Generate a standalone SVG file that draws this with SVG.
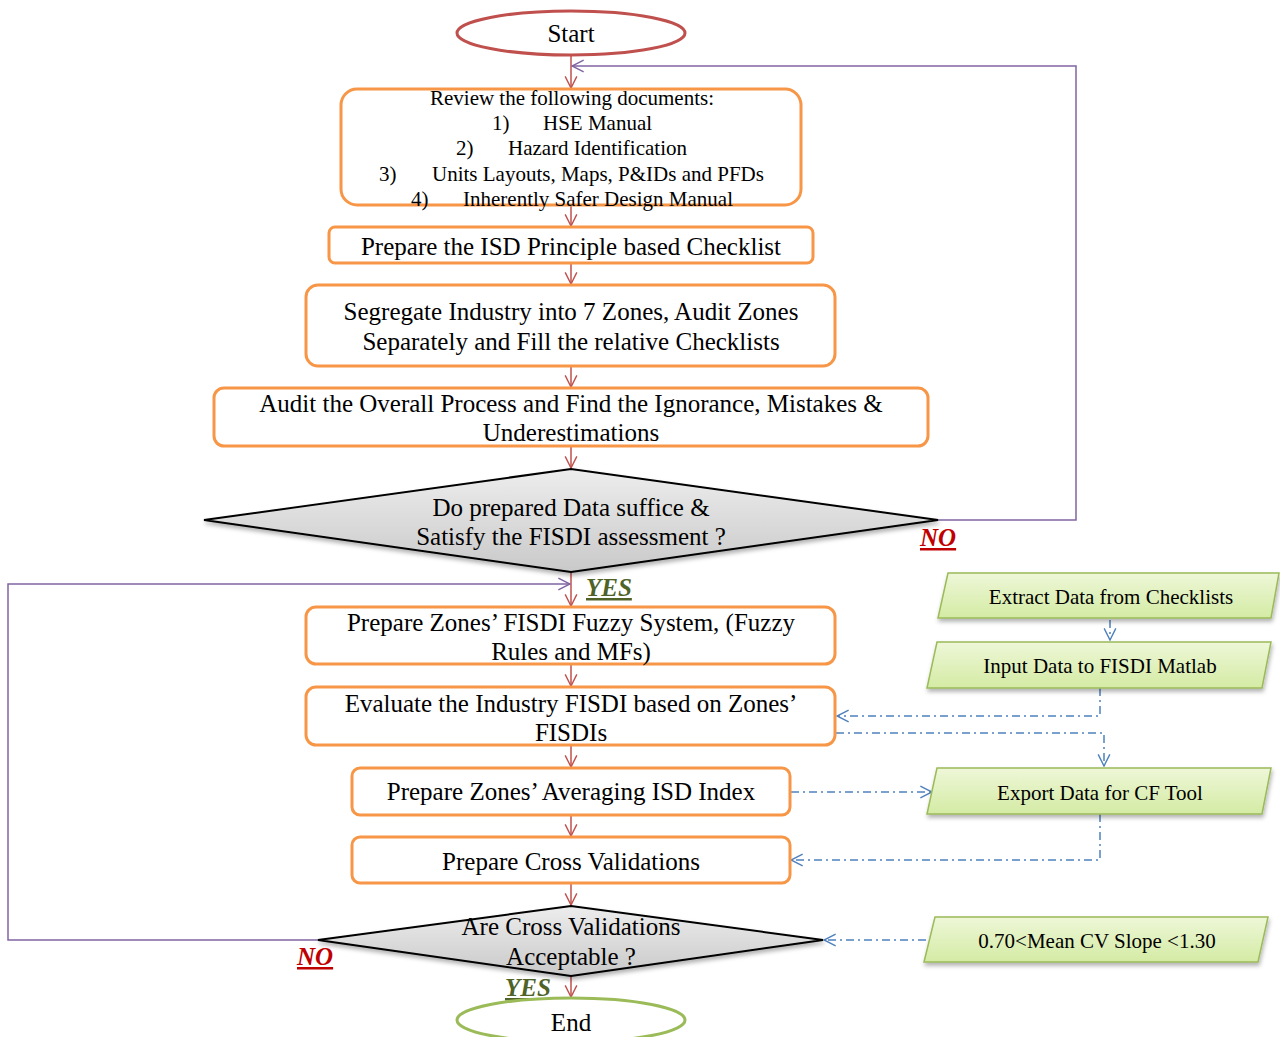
<svg xmlns="http://www.w3.org/2000/svg" width="1280" height="1037" viewBox="0 0 1280 1037">
<style>
text{font-family:"Liberation Serif","Times New Roman",serif;fill:#000}
.box{fill:#fff;stroke:#F79646;stroke-width:3}
.t22{font-size:25px;text-anchor:middle}
.t20{font-size:21px}
.g{font-size:21px;text-anchor:middle}
.red{fill:none;stroke:#C0504D;stroke-width:1.5;marker-end:url(#ar)}
.pur{fill:none;stroke:#8064A2;stroke-width:1.5}
.blu{fill:none;stroke:#4F81BD;stroke-width:1.5;stroke-dasharray:8 4 2 4}
.para{fill:url(#gg);stroke:#9BBB59;stroke-width:1.5;filter:url(#sh)}
.dia{fill:url(#dg);stroke:#000;stroke-width:2;filter:url(#sh)}
.no{font-size:25px;font-weight:bold;font-style:italic;fill:#C00000;text-decoration:underline}
.yes{font-size:25px;font-weight:bold;font-style:italic;fill:#4F6228;text-decoration:underline}
</style>
<defs>
<marker id="ar" viewBox="0 0 12 12" refX="11" refY="6" markerWidth="14" markerHeight="16" markerUnits="userSpaceOnUse" orient="auto"><path d="M1,1 L11,6 L1,11" fill="none" stroke="#C0504D" stroke-width="1.2"/></marker>
<marker id="ap" viewBox="0 0 12 12" refX="11" refY="6" markerWidth="14" markerHeight="14" markerUnits="userSpaceOnUse" orient="auto"><path d="M1,1 L11,6 L1,11" fill="none" stroke="#8064A2" stroke-width="1.2"/></marker>
<marker id="ab" viewBox="0 0 12 12" refX="11" refY="6" markerWidth="14" markerHeight="14" markerUnits="userSpaceOnUse" orient="auto"><path d="M1,1 L11,6 L1,11" fill="none" stroke="#4F81BD" stroke-width="1.2"/></marker>
<linearGradient id="gg" x1="0" y1="0" x2="0" y2="1"><stop offset="0" stop-color="#EEF7D8"/><stop offset="1" stop-color="#D4EBA4"/></linearGradient>
<linearGradient id="dg" x1="0" y1="0" x2="0" y2="1"><stop offset="0" stop-color="#EDEDED"/><stop offset="1" stop-color="#C9C9C9"/></linearGradient>
<filter id="sh" x="-5%" y="-20%" width="110%" height="150%"><feDropShadow dx="1" dy="3" stdDeviation="2" flood-color="#000" flood-opacity="0.3"/></filter>
</defs>

<g id="connectors">
<path class="red" d="M571,55 V88"/>
<path class="red" d="M571,205 V226"/>
<path class="red" d="M571,263 V284"/>
<path class="red" d="M571,366 V387"/>
<path class="red" d="M571,446 V468"/>
<path class="red" d="M571,572 V606"/>
<path class="red" d="M571,664 V686"/>
<path class="red" d="M571,745 V767"/>
<path class="red" d="M571,815 V836"/>
<path class="red" d="M571,883 V905"/>
<path class="red" d="M571,976 V997"/>
<path class="pur" marker-end="url(#ap)" d="M938,520 H1076 V66 H572"/>
<path class="pur" marker-end="url(#ap)" d="M320,940 H8 V584 H570"/>
<path class="blu" marker-end="url(#ab)" d="M1110,620 V640"/>
<path class="blu" marker-end="url(#ab)" d="M1100,688 V716 H837"/>
<path class="blu" marker-end="url(#ab)" d="M836,733 H1104 V766"/>
<path class="blu" marker-end="url(#ab)" d="M791,792 H932"/>
<path class="blu" marker-end="url(#ab)" d="M1100,814 V860 H791"/>
<path class="blu" marker-end="url(#ab)" d="M926,940 H824"/>
</g>

<g id="start">
<ellipse cx="571" cy="33" rx="114" ry="22" fill="#fff" stroke="#C0504D" stroke-width="3"/>
<text class="t22" x="571" y="42">Start</text>
</g>

<g id="review">
<rect class="box" x="341" y="89" width="460" height="116" rx="16"/>
<text class="t20" x="572" y="105" text-anchor="middle">Review the following documents:</text>
<text class="t20" x="492" y="130">1)</text><text class="t20" x="543" y="130">HSE Manual</text>
<text class="t20" x="456" y="155">2)</text><text class="t20" x="508" y="155">Hazard Identification</text>
<text class="t20" x="379" y="181">3)</text><text class="t20" x="432" y="181">Units Layouts, Maps, P&amp;IDs and PFDs</text>
<text class="t20" x="411" y="206">4)</text><text class="t20" x="463" y="206">Inherently Safer Design Manual</text>
</g>

<g id="checklist">
<rect class="box" x="329" y="227" width="484" height="36" rx="6"/>
<text class="t22" x="571" y="255">Prepare the ISD Principle based Checklist</text>
</g>

<g id="segregate">
<rect class="box" x="306" y="285" width="529" height="81" rx="12"/>
<text class="t22" x="571" y="320">Segregate Industry into 7 Zones, Audit Zones</text>
<text class="t22" x="571" y="350">Separately and Fill the relative Checklists</text>
</g>

<g id="audit">
<rect class="box" x="214" y="388" width="714" height="58" rx="10"/>
<text class="t22" x="571" y="412">Audit the Overall Process and Find the Ignorance, Mistakes &amp;</text>
<text class="t22" x="571" y="441">Underestimations</text>
</g>

<g id="decision1">
<polygon class="dia" points="204,520 571,469 938,520 571,572"/>
<text class="t22" x="571" y="516">Do prepared Data suffice &amp;</text>
<text class="t22" x="571" y="545">Satisfy the FISDI assessment ?</text>
<text class="no" x="920" y="546">NO</text>
<text class="yes" x="586" y="596">YES</text>
</g>

<g id="fuzzy">
<rect class="box" x="306" y="607" width="529" height="57" rx="10"/>
<text class="t22" x="571" y="631">Prepare Zones’ FISDI Fuzzy System, (Fuzzy</text>
<text class="t22" x="571" y="660">Rules and MFs)</text>
</g>

<g id="evaluate">
<rect class="box" x="306" y="687" width="529" height="58" rx="10"/>
<text class="t22" x="571" y="712">Evaluate the Industry FISDI based on Zones’</text>
<text class="t22" x="571" y="741">FISDIs</text>
</g>

<g id="averaging">
<rect class="box" x="352" y="768" width="438" height="47" rx="8"/>
<text class="t22" x="571" y="800">Prepare Zones’ Averaging ISD Index</text>
</g>

<g id="crossval">
<rect class="box" x="352" y="837" width="438" height="46" rx="8"/>
<text class="t22" x="571" y="870">Prepare Cross Validations</text>
</g>

<g id="decision2">
<polygon class="dia" points="318,940 571,906 823,940 571,976"/>
<text class="t22" x="571" y="935">Are Cross Validations</text>
<text class="t22" x="571" y="965">Acceptable ?</text>
<text class="no" x="297" y="965">NO</text>
<text class="yes" x="505" y="996">YES</text>
</g>

<g id="end">
<ellipse cx="571" cy="1020" rx="114" ry="22" fill="#fff" stroke="#9BBB59" stroke-width="3"/>
<text class="t22" x="571" y="1031">End</text>
</g>

<g id="extract">
<polygon class="para" points="948,573 1279,573 1271,618 938,618"/>
<text class="g" x="1111" y="604">Extract Data from Checklists</text>
</g>

<g id="input">
<polygon class="para" points="937,642 1271,642 1262,688 927,688"/>
<text class="g" x="1100" y="673">Input Data to FISDI Matlab</text>
</g>

<g id="export">
<polygon class="para" points="937,768 1271,768 1262,814 927,814"/>
<text class="g" x="1100" y="800">Export Data for CF Tool</text>
</g>

<g id="slope">
<polygon class="para" points="935,917 1268,917 1258,962 924,962"/>
<text class="g" x="1097" y="948">0.70&lt;Mean CV Slope &lt;1.30</text>
</g>
</svg>
